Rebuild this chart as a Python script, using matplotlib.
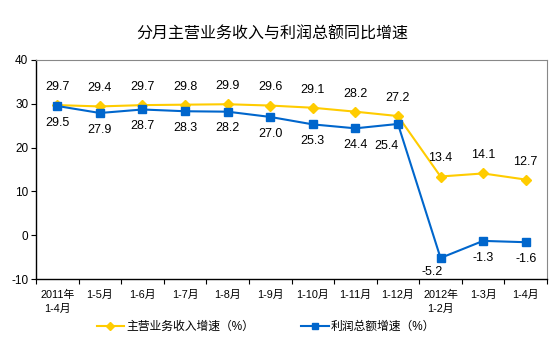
import matplotlib
matplotlib.use("Agg")
import numpy as np
from matplotlib import pyplot as plt
from matplotlib.lines import Line2D

plt.rcParams["font.family"] = ["Liberation Sans", "Noto Sans CJK SC", "DejaVu Sans"]

categories = ["2011年\n1-4月", "1-5月", "1-6月", "1-7月", "1-8月", "1-9月",
              "1-10月", "1-11月", "1-12月", "2012年\n1-2月", "1-3月", "1-4月"]
revenue = [29.7, 29.4, 29.7, 29.8, 29.9, 29.6, 29.1, 28.2, 27.2, 13.4, 14.1, 12.7]
profit = [29.5, 27.9, 28.7, 28.3, 28.2, 27.0, 25.3, 24.4, 25.4, -5.2, -1.3, -1.6]
yticks = [-10, 0, 10, 20, 30, 40]

YELLOW = "#FFCC00"
BLUE = "#0066CC"

fig = plt.figure(figsize=(5.54, 3.51), dpi=100)
ax = fig.add_axes([36 / 554, 1 - 279 / 351, 511 / 554, 219 / 351])

x = np.arange(len(categories))
ax.plot(x, revenue, color=YELLOW, lw=1.5, marker="D", ms=5, mec=YELLOW, mfc=YELLOW, zorder=3)
ax.plot(x, profit, color=BLUE, lw=1.5, marker="s", ms=5.5, mec=BLUE, mfc=BLUE, zorder=4)

ax.set_xlim(-0.5, len(categories) - 0.5)
ax.set_ylim(-10, 40)
ax.set_yticks(yticks)
ax.set_yticklabels([str(v) for v in yticks], fontsize=8.5)
ax.set_xticks(np.arange(len(categories) + 1) - 0.5)
ax.set_xticklabels([])
ax.set_xticks(x, minor=True)
ax.set_xticklabels(categories, minor=True, fontsize=7.8, linespacing=1.45)
ax.tick_params(axis="x", which="major", direction="out", length=3.5, width=0.8)
ax.tick_params(axis="x", which="minor", length=0, pad=8)
ax.tick_params(axis="y", direction="out", length=3.5, width=0.8, pad=2)

for side in ("top", "right"):
    ax.spines[side].set_color("#888888")
    ax.spines[side].set_linewidth(0.8)
for side in ("left", "bottom"):
    ax.spines[side].set_color("black")
    ax.spines[side].set_linewidth(1.0)

for i, v in enumerate(revenue):
    ax.annotate(f"{v:.1f}", (i, v), xytext=(0, 13), textcoords="offset points",
                ha="center", va="center", fontsize=9)
for i, v in enumerate(profit):
    dx, dy = 0, -12
    if i == 8:
        dx, dy = -8, -16
    elif i == 9:
        dx, dy = -6, -10
    ax.annotate(f"{v:.1f}", (i, v), xytext=(dx, dy), textcoords="offset points",
                ha="center", va="center", fontsize=9)

fig.text(272 / 554, 1 - 34 / 351, "分月主营业务收入与利润总额同比增速",
         ha="center", va="center", fontsize=11.5)

handles = [
    Line2D([], [], color=YELLOW, lw=1.5, marker="D", ms=4.5, mfc=YELLOW, mec=YELLOW),
    Line2D([], [], color=BLUE, lw=1.5, marker="s", ms=4.5, mfc=BLUE, mec=BLUE),
]
fig.legend(handles, ["主营业务收入增速（%）", "利润总额增速（%）"],
           loc="center", bbox_to_anchor=(266 / 554, 1 - 327 / 351), ncol=2,
           frameon=False, fontsize=8.5, handlelength=2.3, columnspacing=4.0,
           handletextpad=0.2)

fig.savefig("out.png", dpi=100)
